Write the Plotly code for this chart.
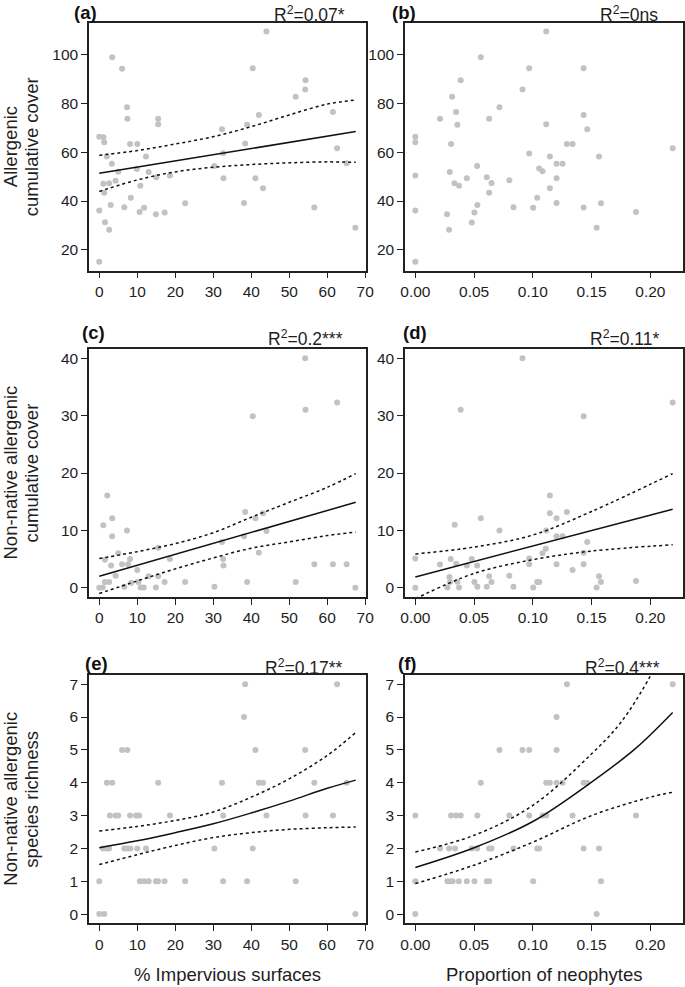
import plotly.graph_objects as go

# ---------------- data ----------------
# Panel (a): % impervious vs allergenic cumulative cover
a_x = [0, 1.1, 1.3, 2.0, 3.4, 3.3, 6.0, 7.3, 7.4, 8.1, 10.0, 12.3, 1.05, 2.6, 1.3, 4.3, 5.0, 9.9,
       10.8, 13.0, 8.3, 3.0, 0, 1.5, 2.6, 6.6, 10.6, 11.8, 14.9, 17.2, 15.0, 15.5, 15.5, 18.6, 22.6,
       0, 30.3, 32.3, 32.6, 32.7, 38.1, 38.4, 38.9, 40.4, 41.1, 42.0, 43.1, 44.0, 51.7, 54.2, 54.3,
       56.6, 61.5, 62.6, 65.1, 67.4]
a_y = [66.3, 66.1, 64.0, 58.2, 98.8, 55.2, 94.1, 78.3, 73.6, 63.3, 63.3, 58.2, 47.1, 47.3, 43.4,
       48.3, 52.0, 53.1, 46.2, 51.9, 41.3, 38.4, 36.1, 31.3, 28.2, 37.4, 35.5, 37.2, 34.6, 35.3,
       49.7, 73.6, 71.4, 50.4, 39.1, 15.2, 54.3, 69.3, 59.5, 49.3, 39.2, 63.5, 71.2, 94.3, 49.3,
       75.2, 45.2, 109.3, 82.6, 85.6, 89.4, 37.3, 76.4, 61.6, 55.4, 29.1]
a_fit_x = [0, 67.5]
a_fit_y = [51.3, 68.4]
a_ci_x = [0, 10, 20, 30, 40, 50, 60, 67.5]
a_ci_hi = [58.7, 60.6, 63.3, 66.3, 70.4, 75.2, 79.6, 81.3]
a_ci_lo = [43.9, 48.6, 51.9, 53.8, 54.9, 55.6, 56.0, 55.8]

# Panel (b): proportion of neophytes vs allergenic cumulative cover
b_x = [0, 0, 0, 0, 0, 0.021, 0.027, 0.0287, 0.0293, 0.0304, 0.0313, 0.0332, 0.0347, 0.0358,
       0.0372, 0.0386, 0.0438, 0.048, 0.0503, 0.0526, 0.0528, 0.0557, 0.0608, 0.0628, 0.0628,
       0.0648, 0.0716, 0.080, 0.0835, 0.0912, 0.0969, 0.0969, 0.1003, 0.1037, 0.1054, 0.1082,
       0.1114, 0.1114, 0.1145, 0.1145, 0.1202, 0.1202, 0.1202, 0.1253, 0.129, 0.1338, 0.1432,
       0.1432, 0.1432, 0.1463, 0.1563, 0.158, 0.1543, 0.1878, 0.219]
b_y = [66.3, 64.0, 50.4, 36.1, 15.2, 73.6, 34.6, 28.2, 51.9, 63.3, 82.6, 47.3, 76.4, 71.2, 46.2,
       89.4, 49.3, 31.2, 35.3, 54.3, 38.4, 98.8, 49.7, 73.6, 43.4, 47.4, 78.3, 48.5, 37.4, 85.6,
       94.3, 59.4, 37.2, 41.3, 53.3, 52.2, 109.3, 71.4, 58.2, 45.2, 55.2, 49.3, 39.2, 55.2, 63.3,
       63.3, 94.3, 75.2, 37.3, 69.3, 58.2, 39.1, 29.1, 35.5, 61.6]

# Panel (c): % impervious vs non-native allergenic cumulative cover
c_x = [0, 0.9, 1.05, 1.5, 1.5, 2.1, 2.6, 3.1, 3.4, 3.4, 4.3, 5.0, 6.0, 6.6, 7.3, 7.6, 8.1, 8.4,
       10.0, 10.3, 10.9, 11.7, 13.0, 14.9, 15.5, 15.5, 17.2, 18.6, 22.6, 30.3, 32.3, 32.6, 32.7,
       38.1, 38.4, 38.9, 40.4, 41.1, 42.0, 43.1, 44.0, 51.7, 54.2, 54.3, 56.6, 61.5, 62.6, 65.1, 67.4]
c_y = [0, 0.06, 10.9, 4.9, 1.0, 16.1, 1.0, 3.9, 12.1, 9.0, 2.1, 6.0, 4.1, 0.17, 10.0, 4.1, 5.0,
       0.9, 3.1, 1.0, 0.06, 0.06, 2.0, 0.06, 7.0, 2.0, 1.0, 5.0, 1.0, 0.17, 8.0, 5.0, 3.9, 9.0,
       13.2, 1.0, 29.9, 12.1, 6.1, 13.0, 9.9, 1.0, 40.0, 31.0, 4.1, 4.1, 32.3, 4.1, 0]
c_fit_x = [0, 67.5]
c_fit_y = [2.0, 14.9]
c_ci_x = [0, 10, 20, 30, 40, 50, 60, 67.5]
c_ci_hi = [5.1, 6.3, 7.7, 9.6, 12.3, 14.9, 17.5, 19.9]
c_ci_lo = [-1.0, 1.2, 3.3, 5.2, 6.9, 8.0, 9.1, 9.7]

# Panel (d): proportion of neophytes vs non-native allergenic cumulative cover
d_x = [0, 0, 0.021, 0.0273, 0.029, 0.0295, 0.0301, 0.0335, 0.0347, 0.0358, 0.0372, 0.0386,
       0.0438, 0.048, 0.0503, 0.0526, 0.0528, 0.0557, 0.0608, 0.0628, 0.0648, 0.0716, 0.080,
       0.0835, 0.0912, 0.0969, 0.0969, 0.1003, 0.1037, 0.1054, 0.1082, 0.111, 0.1114, 0.1145,
       0.1145, 0.1202, 0.1202, 0.1202, 0.1253, 0.129, 0.1338, 0.1432, 0.1432, 0.1432, 0.1463,
       0.1543, 0.1563, 0.158, 0.1878, 0.219]
d_y = [5.1, 0, 4.06, 0.06, 1.9, 1.0, 5.0, 11.0, 4.2, 1.04, 0.06, 31.0, 3.9, 5.0, 1.0, 3.9, 0.17,
       12.1, 0.17, 2.0, 1.0, 10.0, 2.1, 0.17, 40.0, 5.1, 4.1, 0.06, 1.0, 1.0, 6.0, 6.8, 10.0,
       16.1, 13.0, 12.1, 9.0, 4.1, 9.0, 13.2, 3.1, 29.9, 6.1, 4.1, 8.0, 0.06, 2.0, 1.0, 1.2, 32.3]
d_fit_x = [0, 0.219]
d_fit_y = [1.9, 13.7]
d_ci_x = [0, 0.05, 0.10, 0.15, 0.219]
d_ci_hi = [5.9, 7.1, 9.2, 13.3, 19.9]
d_ci_lo = [-1.9, 2.5, 4.9, 6.4, 7.5]

# Panel (e): % impervious vs non-native allergenic species richness
e_x = [0, 1.3, 67.4,
       0, 10.7, 11.8, 13.0, 14.9, 15.5, 17.2, 22.6, 32.6, 38.9, 51.7,
       1.0, 2.0, 2.6, 6.6, 7.4, 8.2, 10.0, 12.3, 30.3, 40.4,
       2.8, 4.3, 5.0, 8.1, 9.7, 10.5, 18.6, 32.6, 44.0, 54.3, 61.5,
       2.0, 3.4, 15.5, 32.3, 42.0, 43.1, 56.6, 65.1,
       6.0, 7.4, 41.1, 54.2,
       38.1,
       38.4, 62.6]
e_y = [0, 0, 0,
       1, 1, 1, 1, 1, 1, 1, 1, 1, 1, 1,
       2, 2, 2, 2, 2, 2, 2, 2, 2, 2,
       3, 3, 3, 3, 3, 3, 3, 3, 3, 3, 3,
       4, 4, 4, 4, 4, 4, 4, 4,
       5, 5, 5, 5,
       6,
       7, 7]
e_fit_x = [0, 10, 20, 30, 40, 50, 60, 67.5]
e_fit_y = [2.02, 2.23, 2.48, 2.75, 3.08, 3.44, 3.83, 4.08]
e_ci_hi = [2.53, 2.67, 2.85, 3.11, 3.56, 4.12, 4.83, 5.53]
e_ci_lo = [1.51, 1.81, 2.09, 2.33, 2.48, 2.58, 2.63, 2.65]

# Panel (f): proportion of neophytes vs non-native allergenic species richness
f_x = [0, 0.1543,
       0, 0.0273, 0.0295, 0.0318, 0.037, 0.0438, 0.0503, 0.0608, 0.0628, 0.1003, 0.158,
       0.021, 0.0287, 0.0338, 0.048, 0.0526, 0.0628, 0.0648, 0.0835, 0.1037, 0.1054, 0.1432, 0.1563,
       0, 0.0304, 0.0347, 0.0386, 0.0528, 0.080, 0.0969, 0.1082, 0.1114, 0.1338, 0.1878,
       0.0557, 0.1114, 0.1145, 0.1202, 0.1253, 0.1432, 0.1463,
       0.0716, 0.0912, 0.0969, 0.1202,
       0.1202,
       0.129, 0.219]
f_y = [0, 0,
       1, 1, 1, 1, 1, 1, 1, 1, 1, 1, 1,
       2, 2, 2, 2, 2, 2, 2, 2, 2, 2, 2, 2,
       3, 3, 3, 3, 3, 3, 3, 3, 3, 3, 3,
       4, 4, 4, 4, 4, 4, 4,
       5, 5, 5, 5,
       6,
       7, 7]
f_fit_x = [0, 0.05, 0.10, 0.15, 0.187, 0.219]
f_fit_y = [1.42, 2.02, 2.82, 4.02, 5.03, 6.14]
f_hi_x = [0, 0.05, 0.10, 0.15, 0.175, 0.20, 0.21]
f_ci_hi = [1.89, 2.40, 3.31, 4.88, 5.84, 7.25, 8.0]
f_lo_x = [0, 0.05, 0.10, 0.15, 0.20, 0.219]
f_ci_lo = [0.93, 1.49, 2.19, 3.00, 3.56, 3.71]

panel_labels = ["(a)", "(b)", "(c)", "(d)", "(e)", "(f)"]
r2_labels = ["R<sup>2</sup>=0.07*", "R<sup>2</sup>=0ns", "R<sup>2</sup>=0.2***",
             "R<sup>2</sup>=0.11*", "R<sup>2</sup>=0.17**", "R<sup>2</sup>=0.4***"]
y_titles = [("Allergenic", "cumulative cover"),
            ("Non-native allergenic", "cumulative cover"),
            ("Non-native allergenic", "species richness")]
x_titles = ["% Impervious surfaces", "Proportion of neophytes"]

# ---------------- layout geometry ----------------
W, H = 685, 987
FONT = "Liberation Sans, Arial, Helvetica, sans-serif"
PT_COLOR = "#c2c2c2"
AX_COLOR = "#222222"
TXT = "#1e1e1e"

col_px = [(89, 366), (405, 683)]
row_px = [(22.7, 270.7), (349, 597), (675, 923.3)]

def xd(c):
    return [col_px[c][0] / W, col_px[c][1] / W]

def yd(r):
    return [1 - row_px[r][1] / H, 1 - row_px[r][0] / H]

fig = go.Figure()

scatter_sets = [(a_x, a_y), (b_x, b_y), (c_x, c_y), (d_x, d_y), (e_x, e_y), (f_x, f_y)]

def axnames(i):
    n = "" if i == 0 else str(i + 1)
    return "x" + n, "y" + n

for i, (sx, sy) in enumerate(scatter_sets):
    xa, ya = axnames(i)
    fig.add_trace(go.Scatter(x=sx, y=sy, mode="markers", xaxis=xa, yaxis=ya,
                             marker=dict(size=6, color=PT_COLOR, line=dict(width=0)),
                             showlegend=False, hoverinfo="skip"))

solid = dict(color="#111111", width=1.5)
dashed = dict(color="#111111", width=1.5, dash="3px,3px")

def add_line(i, x, y, style):
    xa, ya = axnames(i)
    fig.add_trace(go.Scatter(x=x, y=y, mode="lines", xaxis=xa, yaxis=ya, line=style,
                             line_shape="spline", showlegend=False, hoverinfo="skip"))

# (a)
add_line(0, a_ci_x, a_ci_hi, dashed)
add_line(0, a_ci_x, a_ci_lo, dashed)
add_line(0, a_fit_x, a_fit_y, solid)
# (c)
add_line(2, c_ci_x, c_ci_hi, dashed)
add_line(2, c_ci_x, c_ci_lo, dashed)
add_line(2, c_fit_x, c_fit_y, solid)
# (d)
add_line(3, d_ci_x, d_ci_hi, dashed)
add_line(3, d_ci_x, d_ci_lo, dashed)
add_line(3, d_fit_x, d_fit_y, solid)
# (e)
add_line(4, e_fit_x, e_ci_hi, dashed)
add_line(4, e_fit_x, e_ci_lo, dashed)
add_line(4, e_fit_x, e_fit_y, solid)
# (f)
add_line(5, f_hi_x, f_ci_hi, dashed)
add_line(5, f_lo_x, f_ci_lo, dashed)
add_line(5, f_fit_x, f_fit_y, solid)

x_ranges = [[-2.7, 70.2], [-0.0088, 0.2278]]
y_ranges = [[11.5, 112.9], [-1.6, 41.6], [-0.28, 7.28]]
y_ticks = [[20, 40, 60, 80, 100], [0, 10, 20, 30, 40], [0, 1, 2, 3, 4, 5, 6, 7]]
x_ticks = [[0, 10, 20, 30, 40, 50, 60, 70], [0, 0.05, 0.10, 0.15, 0.20]]
x_ticktext = [[str(v) for v in x_ticks[0]], ["%.2f" % v for v in x_ticks[1]]]

layout = dict(width=W, height=H, margin=dict(l=0, r=0, t=0, b=0),
              paper_bgcolor="white", plot_bgcolor="white",
              font=dict(family=FONT, size=15, color=TXT), showlegend=False)

axis_common = dict(showgrid=False, zeroline=False, showline=True, mirror=True,
                   linecolor=AX_COLOR, linewidth=1.5, ticks="outside", ticklen=6,
                   tickwidth=1.2, tickcolor=AX_COLOR, automargin=False,
                   tickfont=dict(family=FONT, size=15.5, color=TXT))

for i in range(6):
    r, c = divmod(i, 2)
    n = "" if i == 0 else str(i + 1)
    layout["xaxis" + n] = dict(axis_common, domain=xd(c), range=x_ranges[c],
                               tickvals=x_ticks[c], ticktext=x_ticktext[c],
                               anchor="y" + n)
    layout["yaxis" + n] = dict(axis_common, domain=yd(r), range=y_ranges[r],
                               tickvals=y_ticks[r], anchor="x" + n)

fig.update_layout(**layout)

# panel labels and R2 texts
label_px = [(72, 13), (390, 13), (80, 333), (401, 333), (83, 663), (396, 663)]
r2_px = [(347, 14), (660, 14), (345, 338), (661, 338), (345, 667), (662, 667)]
for i in range(6):
    lx, ly = label_px[i]
    fig.add_annotation(x=lx / W, y=1 - ly / H, xref="paper", yref="paper",
                       text="<b>" + panel_labels[i] + "</b>", showarrow=False,
                       xanchor="left", yanchor="middle",
                       font=dict(family=FONT, size=18.5, color="#111111"))
    rx, ry = r2_px[i]
    fig.add_annotation(x=rx / W, y=1 - ry / H, xref="paper", yref="paper",
                       text=r2_labels[i], showarrow=False,
                       xanchor="right", yanchor="middle",
                       font=dict(family=FONT, size=17.5, color=TXT))

# y titles (two lines each)
for r in range(3):
    cy = (row_px[r][0] + row_px[r][1]) / 2
    for line_text, lx in zip(y_titles[r], (10.5, 31.5)):
        fig.add_annotation(x=lx / W, y=1 - cy / H, xref="paper", yref="paper",
                           text=line_text, showarrow=False, textangle=-90,
                           xanchor="center", yanchor="middle",
                           font=dict(family=FONT, size=18.5, color=TXT))

# x titles
for c in range(2):
    cx = (col_px[c][0] + col_px[c][1]) / 2
    fig.add_annotation(x=cx / W, y=1 - 974 / H, xref="paper", yref="paper",
                       text=x_titles[c], showarrow=False,
                       xanchor="center", yanchor="middle",
                       font=dict(family=FONT, size=18.5, color=TXT))

fig.write_html("out.html", config={"displayModeBar": False},
               post_script="document.body.style.margin='0px';")
